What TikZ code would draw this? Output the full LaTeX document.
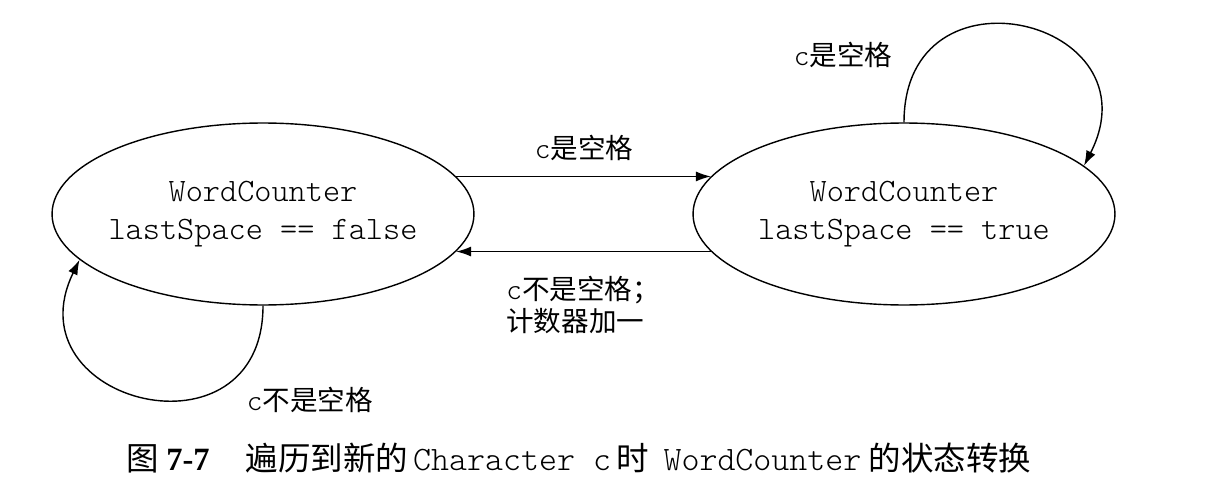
\documentclass[tikz,border=0pt]{standalone}
\usepackage{fontspec}
\setmainfont{Liberation Serif}
\setmonofont{Latin Modern Mono Light}
\newfontfamily\cjk{Noto Sans CJK SC}
\usetikzlibrary{arrows.meta,positioning,calc,shapes.geometric}

\begin{document}
\begin{tikzpicture}[
  x=0.02cm, y=0.02cm,
  >=Latex,
  flow/.style={-{Latex[length=3mm,width=2mm]}, line width=0.8pt},
  state/.style={
    draw, ellipse, line width=0.8pt, align=center,
    minimum width=8.44cm, minimum height=3.64cm,
    inner xsep=-0.2cm, inner ysep=0pt,
    font=\ttfamily\fontsize{18.6}{21.6}\selectfont
  },
  lbl/.style={inner sep=0pt, align=left, font=\cjk\fontsize{15.7}{18.2}\selectfont},
  captext/.style={inner sep=0pt, font=\cjk\fontsize{18.5}{20}\selectfont}
]
\useasboundingbox (0,0) rectangle (1229,-486);

% The two states
\node[state] (sf) at (263,-214) {WordCounter\\lastSpace == false};
\node[state] (st) at (904,-214) {WordCounter\\lastSpace == true};

% Transitions between the states
\draw[flow] (sf.11) -- (st.169);
\draw[flow] (st.191) -- (sf.-11);

% Self loops
\draw[flow] (st.90) to[out=90, in=63, looseness=2.27] (st.15);
\draw[flow] (sf.-90) to[out=-90, in=244, looseness=2.17] (sf.194);

% Transition labels
\node[lbl] (lsp) at (584,-148) {{\fontsize{17}{18}\ttfamily c}是空格};
\node[lbl, anchor=north west] (lcnt) at (506,-276) {{\fontsize{17}{18}\ttfamily c}不是空格；\\计数器加一};
\node[lbl] (lloopt) at (843,-55) {{\fontsize{17}{18}\ttfamily c}是空格};
\node[lbl] (lloopf) at (310,-400) {{\fontsize{17}{18}\ttfamily c}不是空格};

% Caption
\node[captext, anchor=west] (caption) at (126,-458)
  {图\hspace{0.15cm}{\rmfamily\bfseries 7-7}\hspace{0.72cm}遍历到新的\hspace{0.1cm}{\ttfamily\fontsize{19.5}{20}\selectfont Character c}\hspace{0.1cm}时\hspace{0.3cm}{\ttfamily\fontsize{19.5}{20}\selectfont WordCounter}\hspace{0.15cm}的状态转换};

\end{tikzpicture}
\end{document}
